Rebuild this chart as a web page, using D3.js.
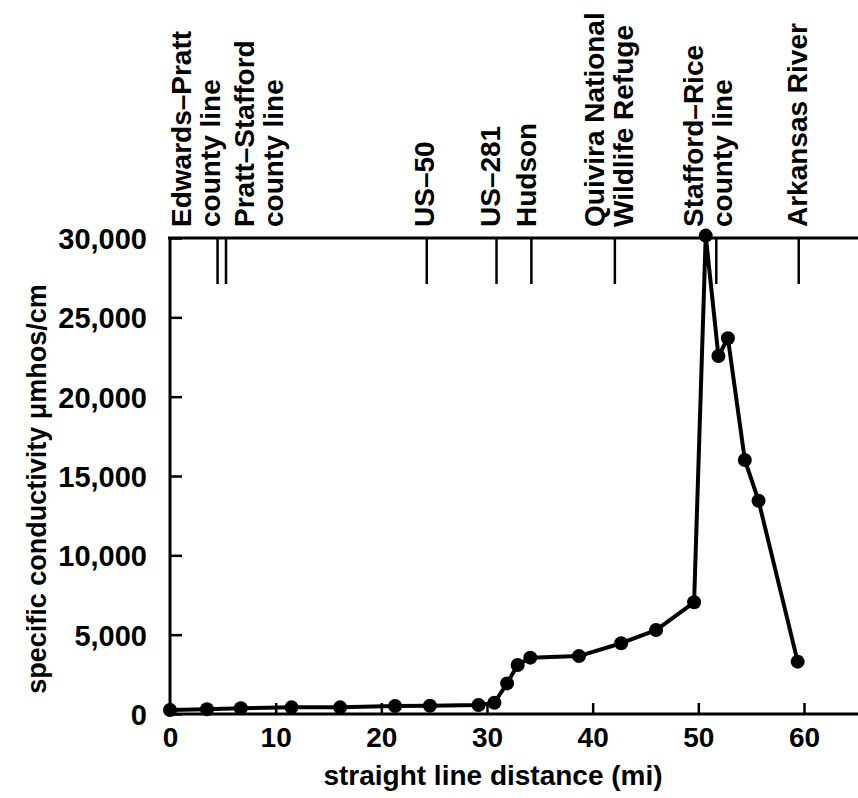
<!DOCTYPE html>
<html>
<head>
<meta charset="utf-8">
<script src="https://cdn.jsdelivr.net/npm/d3@7"></script>
<style>
  html, body { margin: 0; padding: 0; background: #fff; }
  svg { display: block; }
  text { font-family: "Liberation Sans", Arial, Helvetica, sans-serif; font-weight: bold; fill: #000; }
</style>
</head>
<body>
<div id="chart"></div>
<script>
// distance along the river (mi) and specific conductivity (umhos/cm)
const distance = [0, 3.5, 6.7, 11.5, 16.1, 21.3, 24.6, 29.2, 30.7, 31.9, 32.9, 34.1,
  38.7, 42.7, 46.0, 49.6, 50.7, 51.9, 52.8, 54.4, 55.7, 59.4]
const conductivity = [250, 300, 360, 420, 420, 500, 520, 570, 710, 1930, 3090, 3550,
  3650, 4460, 5290, 7040, 30150, 22560, 23680, 16010, 13440, 3300]

// landmarks marked along the top of the chart
const landmarkNames = [
  ['Edwards\u2013Pratt', 'county line'],
  ['Pratt\u2013Stafford', 'county line'],
  ['US\u201350'],
  ['US\u2013281'],
  ['Hudson'],
  ['Quivira National', 'Wildlife Refuge'],
  ['Stafford\u2013Rice', 'county line'],
  ['Arkansas River']
]
const landmarkMiles = [4.5, 5.3, 24.3, 30.9, 34.2, 42.1, 51.7, 59.5]

const xTicks = [0, 10, 20, 30, 40, 50, 60]
const yTicks = [0, 5000, 10000, 15000, 20000, 25000, 30000]

// layout
const width = 858
const height = 798
const plotLeft = 170, plotRight = 858
const plotTop = 238, plotBottom = 714
const labelShift = [2, 57, 7, 3, 5, 18, 16, 8]  // px, baseline of last label line vs. its tick
const lineGap = 29

const svg = d3.select('#chart')
  .append('svg')
  .attr('width', width)
  .attr('height', height)

const xs = d3.scaleLinear().domain([0, 60]).range([plotLeft, 804])
const ys = d3.scaleLinear().domain([0, 30000]).range([plotBottom, plotTop])

// x axis, ticks pointing inward
const xAxis = svg.append('g')
  .attr('transform', `translate(0,${plotBottom})`)
  .call(d3.axisBottom(xs).tickValues(xTicks).tickSize(-11).tickSizeOuter(0).tickPadding(13))
xAxis.select('.domain').remove()
xAxis.selectAll('line').attr('stroke', '#000').attr('stroke-width', 2.5)
xAxis.selectAll('text').attr('font-size', 28)

// y axis
const yAxis = svg.append('g')
  .attr('transform', `translate(${plotLeft},0)`)
  .call(d3.axisLeft(ys).tickValues(yTicks).tickFormat(d3.format(',')).tickSize(-12).tickSizeOuter(0).tickPadding(23))
yAxis.select('.domain').remove()
yAxis.selectAll('line').attr('stroke', '#000').attr('stroke-width', 2.5)
yAxis.selectAll('text').attr('font-size', 29).attr('dy', '0.36em')

// frame lines
svg.append('line')
  .attr('x1', plotLeft - 2).attr('x2', plotRight).attr('y1', plotBottom).attr('y2', plotBottom)
  .attr('stroke', '#000').attr('stroke-width', 3)
svg.append('line')
  .attr('x1', plotLeft - 2).attr('x2', plotRight).attr('y1', plotTop).attr('y2', plotTop)
  .attr('stroke', '#000').attr('stroke-width', 3)
svg.append('line')
  .attr('x1', plotLeft).attr('x2', plotLeft).attr('y1', plotTop).attr('y2', plotBottom + 1)
  .attr('stroke', '#000').attr('stroke-width', 3)

// landmark ticks hanging from the top line
svg.append('g')
  .selectAll('line')
  .data(landmarkMiles)
  .join('line')
  .attr('x1', d => xs(d)).attr('x2', d => xs(d))
  .attr('y1', plotTop).attr('y2', plotTop + 46)
  .attr('stroke', '#000').attr('stroke-width', 2.5)

// landmark labels, rotated
const labels = svg.append('g')
  .selectAll('text')
  .data(landmarkNames)
  .join('text')
  .attr('font-size', 28)
  .attr('transform', (d, i) => {
    let x = xs(landmarkMiles[i]) + labelShift[i] - (d.length - 1) * lineGap
    return `translate(${x},${plotTop - 11}) rotate(-90)`
  })
labels.selectAll('tspan')
  .data(d => d)
  .join('tspan')
  .attr('x', 0)
  .attr('y', (d, j) => j * lineGap)
  .text(d => d)

// data line and points
const data = distance.map((d, i) => ({ x: d, y: conductivity[i] }))
svg.append('path')
  .datum(data)
  .attr('fill', 'none')
  .attr('stroke', '#000')
  .attr('stroke-width', 4)
  .attr('stroke-linejoin', 'round')
  .attr('d', d3.line().x(d => xs(d.x)).y(d => ys(d.y)))
svg.append('g')
  .selectAll('circle')
  .data(data)
  .join('circle')
  .attr('cx', d => xs(d.x))
  .attr('cy', d => ys(d.y))
  .attr('r', 7)
  .attr('fill', '#000')

// axis titles
svg.append('text')
  .attr('x', 493).attr('y', 785)
  .attr('text-anchor', 'middle')
  .attr('font-size', 28)
  .text('straight line distance (mi)')
svg.append('text')
  .attr('transform', 'translate(46,489) rotate(-90)')
  .attr('text-anchor', 'middle')
  .attr('font-size', 27)
  .text('specific conductivity \u03bcmhos/cm')
</script>
</body>
</html>
